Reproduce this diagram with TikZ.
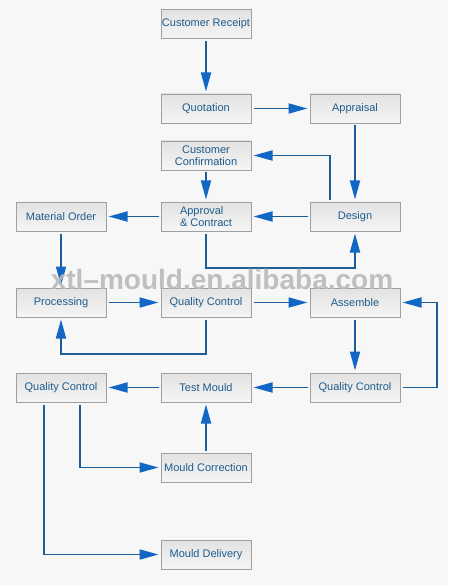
\documentclass[tikz,border=0pt]{standalone}
\usepackage{fontspec}
\setmainfont{Liberation Sans}
\usetikzlibrary{arrows.meta}

\definecolor{bgpage}{RGB}{247,247,247}
\definecolor{boxline}{RGB}{160,160,160}
\definecolor{boxtop}{RGB}{226,226,226}
\definecolor{boxbot}{RGB}{245,245,245}
\definecolor{textblue}{RGB}{30,92,140}
\definecolor{lineblue}{RGB}{28,95,150}
\definecolor{tipblue}{RGB}{18,102,196}

\tikzset{
  box/.style={draw=boxline, line width=0.8pt, top color=boxtop, bottom color=boxbot,
    minimum width=90pt, minimum height=29pt, inner sep=0pt, outer sep=2.5pt,
    align=center, text=textblue, font=\fontsize{11}{12.5}\selectfont},
  flow/.style={draw=lineblue, line width=1.8pt,
    -{Triangle[length=19pt,width=10pt,color=tipblue]}},
}

\begin{document}
\begin{tikzpicture}[x=1pt, y=-1pt]

  \fill[bgpage] (0,0) rectangle (448,585);
  \useasboundingbox (0,0) rectangle (448,585);

  % ---------------- boxes ----------------
  \node[box] (receipt)    at (206,24)    {Customer Receipt};
  \node[box] (quote)      at (206,108.5) {Quotation};
  \node[box] (appraisal)  at (355,108.5) {Appraisal};
  \node[box] (confirm)    at (206,155.5) {Customer\\Confirmation};
  \node[box] (material)   at (61,216.5)  {Material Order};
  \node[box, align=left] (approval) at (206,216.5) {Approval\\\& Contract};
  \node[box] (design)     at (355,216.5) {Design};
  \node[box] (process)    at (61,302.5)  {Processing};
  \node[box] (qcmid)      at (206,302.5) {Quality Control};
  \node[box] (assemble)   at (355,302.5) {Assemble};
  \node[box] (qcleft)     at (61,387.5)  {Quality Control};
  \node[box] (testmould)  at (206,387.5) {Test Mould};
  \node[box] (qcright)    at (355,387.5) {Quality Control};
  \node[box] (correction) at (206,467.5) {Mould Correction};
  \node[box] (delivery)   at (206,554.5) {Mould Delivery};

  % turning levels of the loops
  \coordinate (lowa)  at (0,268);
  \coordinate (lowb)  at (0,354);
  \coordinate (sidec) at (437,0);

  % ---------------- connectors ----------------
  \draw[flow] (receipt) -- (quote);
  \draw[flow] (quote) -- (appraisal);
  \draw[flow] (appraisal) -- (design);
  \draw[flow] ([xshift=-25pt]design.north) |- (confirm);
  \draw[flow] (confirm) -- (approval);
  \draw[flow] (design) -- (approval);
  \draw[flow] (approval) -- (material);
  \draw[flow] (approval.south) -- (approval.south |- lowa) -| (design.south);
  \draw[flow] (material) -- (process);
  \draw[flow] (process) -- (qcmid);
  \draw[flow] (qcmid) -- (assemble);
  \draw[flow] (qcmid.south) -- (qcmid.south |- lowb) -| (process.south);
  \draw[flow] (assemble) -- (qcright);
  \draw[flow] (qcright.east) -- (qcright.east -| sidec) |- (assemble.east);
  \draw[flow] (qcright) -- (testmould);
  \draw[flow] (testmould) -- (qcleft);
  \draw[flow] ([xshift=19pt]qcleft.south) |- (correction);
  \draw[flow] ([xshift=-17pt]qcleft.south) |- (delivery);
  \draw[flow] (correction) -- (testmould);

  % watermark over the middle row
  \node[text=gray!55, opacity=0.9, inner sep=0pt, anchor=base,
    font=\fontsize{28}{28}\selectfont\bfseries]
    (mark) at (222,289) {xtl--mould.en.alibaba.com};

\end{tikzpicture}
\end{document}
